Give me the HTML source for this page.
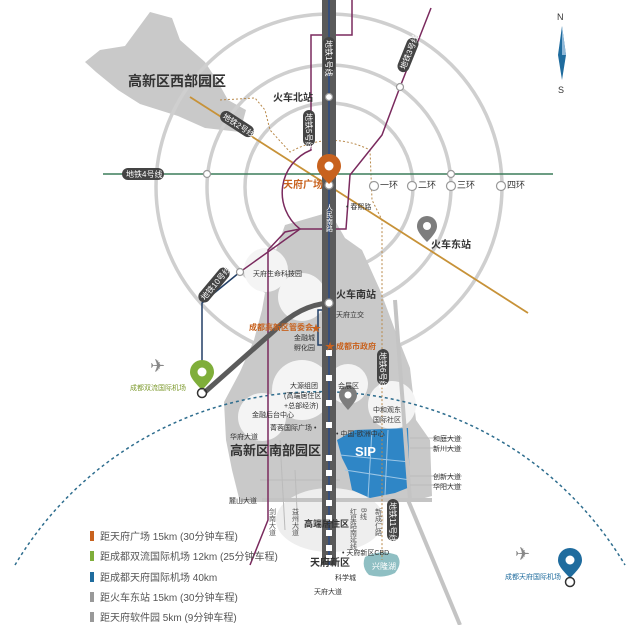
<!DOCTYPE html>
<html><head><meta charset="utf-8"><style>
html,body{margin:0;padding:0;background:#fff;}
svg{display:block;font-family:"Liberation Sans","Noto Sans CJK SC",sans-serif;}
</style></head><body>
<svg width="640" height="625" viewBox="0 0 640 625" xmlns="http://www.w3.org/2000/svg">
<rect width="640" height="625" fill="#fff"/>
<!-- west park -->
<polygon points="85,62 100,50 125,46 150,12 172,18 180,40 205,62 218,82 228,100 246,110 240,132 205,128 178,116 140,104 118,90 96,72" fill="#c9c9c9"/>
<!-- rings -->
<g fill="none" stroke="#cfcfcf" stroke-width="3.5">
<circle cx="329" cy="187" r="84"/>
<circle cx="329" cy="187" r="122"/>
<circle cx="329" cy="187" r="173"/>
</g>
<!-- south grey region -->
<polygon points="285,225 330,212 345,238 362,250 380,290 395,330 410,368 416,420 430,440 432,496 410,502 240,502 232,470 226,440 224,402 240,372 254,340 262,310 268,276 276,250" fill="#c9c9c9"/>
<g fill="#f4f4f4">
<circle cx="266" cy="270" r="22"/>
<circle cx="302" cy="297" r="24"/>
<circle cx="302" cy="390" r="30"/>
<circle cx="262" cy="417" r="24"/>
<circle cx="348" cy="384" r="20"/>
<circle cx="392" cy="405" r="24"/>
<ellipse cx="330" cy="520" rx="54" ry="32" fill="#eeeeee"/>
</g>
<!-- blue zone -->
<polygon points="355,430 408,428 410,487 395,493 370,498 352,490 348,470 342,458 337,440" fill="#2f86c6"/>
<g stroke="#9cc6e6" stroke-width="1" fill="none"><line x1="340" y1="455" x2="410" y2="462"/><line x1="345" y1="470" x2="410" y2="480"/><line x1="372" y1="430" x2="368" y2="498"/><line x1="388" y1="430" x2="385" y2="495"/></g>
<text x="355" y="456" font-size="13" font-weight="bold" fill="#fff">SIP</text>
<!-- lake -->
<path d="M365,557 q15,-8 32,-2 q6,8 -2,18 q-12,6 -26,2 q-8,-8 -4,-18z" fill="#8fbfc3"/>
<text x="372" y="569" font-size="8" fill="#fff">兴隆湖</text>
<!-- roads -->
<g stroke="#c4c4c4" stroke-width="4" fill="none">
<line x1="262" y1="500" x2="432" y2="500"/>
<line x1="408" y1="500" x2="460" y2="625"/>
<line x1="395" y1="300" x2="410" y2="500"/>
</g>
<g stroke="#bbb" stroke-width="1" fill="none">
<line x1="410" y1="438" x2="462" y2="438"/><line x1="410" y1="448" x2="462" y2="448"/>
<line x1="410" y1="476" x2="462" y2="476"/><line x1="410" y1="485" x2="462" y2="485"/>
<line x1="260" y1="480" x2="340" y2="480"/><line x1="280" y1="440" x2="285" y2="530"/><line x1="295" y1="470" x2="298" y2="530"/>
</g>
<!-- blue dashed arc -->
<path d="M15,565 A355,355 0 0 1 625,565" fill="none" stroke="#2e6d8e" stroke-width="1.5" stroke-dasharray="3,3"/>
<!-- dashed brown loop -->
<path d="M220,100 L255,98 L265,110 L270,130 L290,152 Q330,130 370,150 L372,200 L382,220 L382,560" fill="none" stroke="#b8894a" stroke-width="1" stroke-dasharray="2,2"/>
<!-- line 2 -->
<line x1="190" y1="97" x2="528" y2="313" stroke="#c79238" stroke-width="1.8"/>
<!-- line 4 -->
<line x1="103" y1="174" x2="553" y2="174" stroke="#3c7d5a" stroke-width="1.5"/>
<!-- line 3 purple -->
<polyline points="431,8 400,87 382,135 350,175 346,229 300,229 240,272" fill="none" stroke="#7a2a5e" stroke-width="1.5"/>
<!-- line 5 purple -->
<path d="M352,0 L352,35 L311,35 L311,150 A46,46 0 0 0 300,229 L285,232 L268,250 L268,520 L250,565" fill="none" stroke="#7a2a5e" stroke-width="1.5"/>
<!-- navy line 10 -->
<polyline points="202,380 202,303 240,272" fill="none" stroke="#223f66" stroke-width="1.5"/>
<polyline points="329,310 318,310 318,345 329,345" fill="none" stroke="#223f66" stroke-width="1.5"/>
<!-- airport highway -->
<path d="M205,392 L275,330 Q300,305 329,303" fill="none" stroke="#5b5b5b" stroke-width="5"/>
<!-- central road line 1 -->
<rect x="322" y="0" width="14" height="565" fill="#5a5a5a"/>
<line x1="329" y1="0" x2="329" y2="565" stroke="#2a4b85" stroke-width="1.5"/>
<g fill="#fff"><rect x="326" y="350" width="6" height="6"/><rect x="326" y="375" width="6" height="6"/><rect x="326" y="400" width="6" height="6"/><rect x="326" y="422" width="6" height="6"/><rect x="326" y="455" width="6" height="6"/><rect x="326" y="470" width="6" height="6"/><rect x="326" y="485" width="6" height="6"/><rect x="326" y="500" width="6" height="6"/><rect x="326" y="515" width="6" height="6"/><rect x="326" y="530" width="6" height="6"/><rect x="326" y="545" width="6" height="6"/><rect x="326" y="555" width="6" height="6"/></g>
<!-- pills -->
<g font-size="8" fill="#fff">
<rect x="122" y="168" width="42" height="12" rx="6" fill="#444"/><text x="126" y="177">地铁4号线</text>
<g transform="translate(329,55) rotate(90)"><rect x="-18" y="-6" width="36" height="12" rx="6" fill="#444"/><text x="-15" y="3">地铁1号线</text></g>
<g transform="translate(309,128) rotate(90)"><rect x="-18" y="-6" width="36" height="12" rx="6" fill="#444"/><text x="-15" y="3">地铁5号线</text></g>
<g transform="translate(408,55) rotate(-68)"><rect x="-18" y="-6" width="36" height="12" rx="6" fill="#444"/><text x="-15" y="3">地铁3号线</text></g>
<g transform="translate(237,124) rotate(33)"><rect x="-19" y="-6" width="38" height="12" rx="6" fill="#444"/><text x="-16" y="3">地铁2号线</text></g>
<g transform="translate(214,285) rotate(-50)"><rect x="-21" y="-6" width="42" height="12" rx="6" fill="#444"/><text x="-18" y="3">地铁10号线</text></g>
<g transform="translate(383,367) rotate(90)"><rect x="-18" y="-6" width="36" height="12" rx="6" fill="#444"/><text x="-15" y="3">地铁6号线</text></g>
<g transform="translate(393,520) rotate(90)"><rect x="-21" y="-6" width="42" height="12" rx="6" fill="#444"/><text x="-18" y="3">地铁11号线</text></g>
</g>
<!-- stations -->
<g fill="#fff" stroke="#999" stroke-width="1.2">
<circle cx="207" cy="174" r="3.5"/><circle cx="451" cy="174" r="3.5"/><circle cx="400" cy="87" r="3.5"/><circle cx="329" cy="97" r="3.5"/><circle cx="240" cy="272" r="3.5"/>
<circle cx="374" cy="186" r="4.5"/><circle cx="412" cy="186" r="4.5"/><circle cx="451" cy="186" r="4.5"/><circle cx="501" cy="186" r="4.5"/>
<circle cx="329" cy="303" r="4"/><circle cx="329" cy="185" r="4"/>
</g>
<!-- pins -->
<path d="M329,184 c-10,-10 -12,-14 -12,-18 a12,12 0 0 1 24,0 c0,4 -2,8 -12,18z" fill="#c8621e"/><circle cx="329" cy="166" r="4.5" fill="#fff"/>
<path d="M427,242 c-9,-9 -10,-13 -10,-16 a10,10 0 0 1 20,0 c0,3 -1,7 -10,16z" fill="#7d7d7d"/><circle cx="427" cy="226" r="4" fill="#fff"/>
<path d="M348,410 c-8,-9 -9,-12 -9,-15 a9,9 0 0 1 18,0 c0,3 -1,6 -9,15z" fill="#7d7d7d"/><circle cx="348" cy="395" r="3.5" fill="#fff"/>
<path d="M202,390 c-10,-10 -12,-14 -12,-18 a12,12 0 0 1 24,0 c0,4 -2,8 -12,18z" fill="#7fae3a"/><circle cx="202" cy="372" r="4.5" fill="#fff"/><circle cx="202" cy="393" r="4.5" fill="none" stroke="#333" stroke-width="1.5"/>
<path d="M570,578 c-10,-10 -12,-14 -12,-18 a12,12 0 0 1 24,0 c0,4 -2,8 -12,18z" fill="#1f6c9e"/><circle cx="570" cy="560" r="4.5" fill="#fff"/><circle cx="570" cy="582" r="4.5" fill="none" stroke="#333" stroke-width="1.5"/>
<!-- planes -->
<text x="150" y="372" font-size="18" fill="#888">✈</text>
<text x="515" y="560" font-size="18" fill="#888">✈</text>
<!-- stars -->
<g font-size="10" fill="#c8621e"><text x="311" y="332">★</text><text x="325" y="350">★</text></g>
<!-- compass -->
<text x="557" y="20" font-size="9" fill="#333">N</text>
<polygon points="562,26 566,55 562,80 558,55" fill="#1f6c9e"/>
<polygon points="562,26 566,55 562,55" fill="#8fb8d8"/>
<text x="558" y="93" font-size="9" fill="#333">S</text>
<!-- labels -->
<g fill="#333">
<text x="128" y="86" font-size="14" font-weight="bold">高新区西部园区</text>
<text x="273" y="101" font-size="10" font-weight="bold">火车北站</text>
<text x="283" y="188" font-size="10" font-weight="bold" fill="#c8621e">天府广场</text>
<text x="380" y="188" font-size="9">一环</text><text x="418" y="188" font-size="9">二环</text><text x="457" y="188" font-size="9">三环</text><text x="507" y="188" font-size="9">四环</text>
<text x="346" y="209" font-size="7">• 春熙路</text>
<text x="431" y="248" font-size="10" font-weight="bold">火车东站</text>
<text x="253" y="276" font-size="7">天府生命科技园</text>
<text x="336" y="298" font-size="10" font-weight="bold">火车南站</text>
<text x="336" y="317" font-size="7">天府立交</text>
<text x="249" y="330" font-size="8" font-weight="bold" fill="#c8621e">成都高新区管委会</text>
<text x="336" y="349" font-size="8" font-weight="bold" fill="#c8621e">成都市政府</text>
<text x="294" y="340" font-size="7">金融城</text><text x="294" y="350" font-size="7">孵化园</text>
<text x="290" y="388" font-size="7">大源组团</text><text x="284" y="398" font-size="7">(高端居住区</text><text x="284" y="408" font-size="7">+总部经济)</text>
<text x="338" y="388" font-size="7">会展区</text>
<text x="252" y="417" font-size="7">金融后台中心</text>
<text x="270" y="430" font-size="7">菁蓉国际广场 •</text>
<text x="373" y="412" font-size="7">中和观东</text><text x="373" y="422" font-size="7">国际社区</text>
<text x="336" y="436" font-size="7">• 中国-欧洲中心</text>
<text x="230" y="439" font-size="7">华府大道</text>
<text x="230" y="455" font-size="13" font-weight="bold">高新区南部园区</text>
<text x="433" y="441" font-size="7">和庭大道</text><text x="433" y="451" font-size="7">新川大道</text>
<text x="433" y="479" font-size="7">创新大道</text><text x="433" y="489" font-size="7">华阳大道</text>
<text x="229" y="503" font-size="7">麓山大道</text>
<text x="304" y="527" font-size="9" font-weight="bold">高端居住区</text>
<text x="342" y="555" font-size="7">• 天府新区CBD</text>
<text x="310" y="566" font-size="10" font-weight="bold">天府新区</text>
<text x="335" y="580" font-size="7">科学城</text>
<text x="314" y="594" font-size="7">天府大道</text>
<text x="130" y="390" font-size="7" fill="#7d9a2e">成都双流国际机场</text>
<text x="505" y="579" font-size="7" fill="#1f6c9e">成都天府国际机场</text>
</g>
<g font-size="7" fill="#555">
<text writing-mode="tb" x="272" y="508">剑南大道</text>
<text writing-mode="tb" x="295" y="508">益州大道</text>
<text writing-mode="tb" x="353" y="508">红星路南延线</text>
<text writing-mode="tb" x="363" y="508">B线</text>
<text writing-mode="tb" x="378" y="508">新成仁路</text>
<text writing-mode="tb" x="329" y="204" fill="#fff">人民南路</text>
</g>
<!-- legend -->
<g font-size="10" fill="#555">
<rect x="90" y="531" width="4" height="10" fill="#c8621e"/><text x="100" y="540">距天府广场 15km (30分钟车程)</text>
<rect x="90" y="551" width="4" height="10" fill="#7fae3a"/><text x="100" y="560">距成都双流国际机场 12km (25分钟车程)</text>
<rect x="90" y="572" width="4" height="10" fill="#1f6c9e"/><text x="100" y="581">距成都天府国际机场 40km</text>
<rect x="90" y="592" width="4" height="10" fill="#999"/><text x="100" y="601">距火车东站 15km (30分钟车程)</text>
<rect x="90" y="612" width="4" height="10" fill="#999"/><text x="100" y="621">距天府软件园 5km (9分钟车程)</text>
</g>
</svg>
</body></html>
